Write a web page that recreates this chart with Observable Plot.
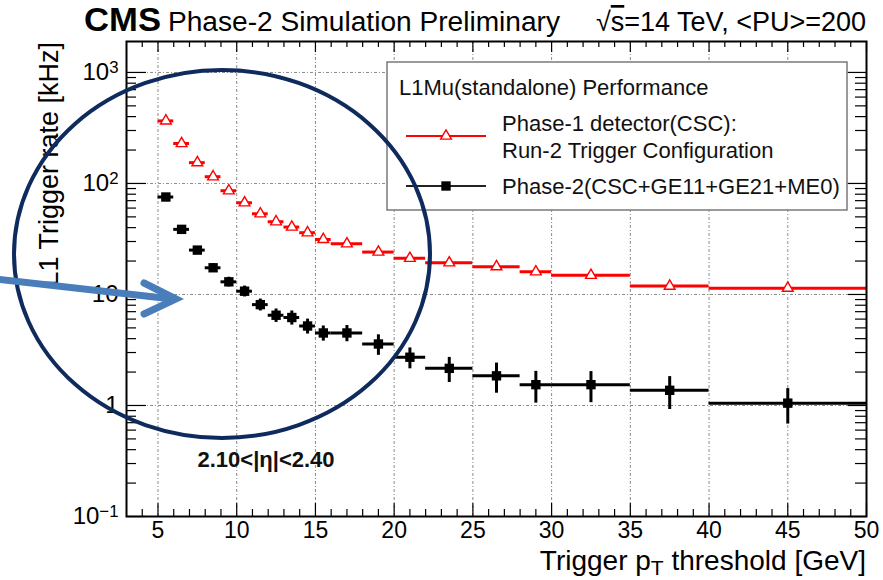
<!DOCTYPE html>
<html>
<head>
<meta charset="utf-8">
<script src="https://cdn.jsdelivr.net/npm/d3@7"></script>
<script src="https://cdn.jsdelivr.net/npm/@observablehq/plot@0.6"></script>
<style>
  body { margin: 0; background: #fff; }
  svg { font-family: "Liberation Sans", Arial, Helvetica, sans-serif; }
</style>
</head>
<body>
<div id="chart"></div>
<script>
// ---- data ----
const binLow  = [5, 6, 7, 8, 9, 10, 11, 12, 13, 14, 15, 16, 18, 20, 22, 25, 28, 30, 35, 40];
const binHigh = [6, 7, 8, 9, 10, 11, 12, 13, 14, 15, 16, 18, 20, 22, 25, 28, 30, 35, 40, 50];
const ptCenter = [5.5, 6.5, 7.5, 8.5, 9.5, 10.5, 11.5, 12.5, 13.5, 14.5, 15.5, 17, 19, 21, 23.5, 26.5, 29, 32.5, 37.5, 45];
const phase1Rate = [366, 229, 154, 115, 86, 67, 53.3, 45.2, 40.5, 36, 31.3, 28.6, 24.1, 21.2, 19.3, 17.8, 16.0, 14.9, 11.9, 11.4];
const phase1Err  = [6, 4.5, 3.5, 3, 2.6, 2.2, 2, 1.8, 1.7, 1.6, 1.5, 1.4, 1.3, 1.2, 1.1, 1.05, 1.0, 0.95, 0.85, 0.8];
const phase2Rate = [75.5, 38.6, 25.1, 17.4, 13.0, 10.7, 8.1, 6.5, 6.2, 5.2, 4.5, 4.5, 3.58, 2.72, 2.16, 1.85, 1.54, 1.54, 1.37, 1.05];
const phase2Err  = [3.0, 2.2, 1.8, 1.5, 1.3, 1.2, 1.0, 0.9, 0.9, 0.8, 0.7, 0.75, 0.75, 0.58, 0.55, 0.56, 0.49, 0.48, 0.45, 0.37];

const xMajor = [5, 10, 15, 20, 25, 30, 35, 40, 45, 50];
const xTickLabels = ["5", "10", "15", "20", "25", "30", "35", "40", "45", "50"];
const yMajor = [0.1, 1, 10, 100, 1000];
const yTickLabels = ["10^\u22121", "1", "10", "10^2", "10^3"];

const seriesNames = ["Phase-1 detector(CSC):", "Run-2 Trigger Configuration", "Phase-2(CSC+GE11+GE21+ME0)"];
const legendTitle = "L1Mu(standalone) Performance";
const etaLabel = "2.10<|\u03b7|<2.40";

// ---- layout ----
const W = 883, H = 580, mL = 126, mR = 17, mT = 41, mB = 64;
const fw = W - mL - mR, fh = H - mT - mB;
const yMax = 1900;

const data = ptCenter.map((x, i) => ({
  x, lo: binLow[i], hi: binHigh[i],
  r1: phase1Rate[i], e1: phase1Err[i],
  r2: phase2Rate[i], e2: phase2Err[i]
}));

const xMinor = d3.range(4, 50).filter(v => v % 5 !== 0);
const yMinor = [];
for (const k of [-1, 0, 1, 2, 3]) for (let m = 2; m <= 9; m++) {
  const v = m * Math.pow(10, k);
  if (v < yMax) yMinor.push(+v.toPrecision(3));
}
const gridX = xMajor.filter(v => v < 50);
const gridY = yMajor.filter(v => v > 0.1);
const grid = { stroke: "#8a8a8a", strokeWidth: 1, strokeDasharray: "3,2,1,2" };

const RED = "#ff0000";

const svg = Plot.plot({
  width: W, height: H,
  marginLeft: mL, marginRight: mR, marginTop: mT, marginBottom: mB,
  style: { background: "white", fontFamily: "'Liberation Sans', Arial, sans-serif" },
  x: { type: "linear", domain: [3, 50] },
  y: { type: "log", domain: [0.1, yMax] },
  marks: [
    Plot.ruleX(gridX, grid),
    Plot.ruleY(gridY, grid),
    // inward ticks on all four sides
    Plot.tickX(xMinor, { insetTop: fh - 7, stroke: "black", strokeWidth: 1.2 }),
    Plot.tickX(xMajor, { insetTop: fh - 13, stroke: "black", strokeWidth: 1.2 }),
    Plot.tickX(xMinor, { insetBottom: fh - 6, stroke: "black", strokeWidth: 1.2 }),
    Plot.tickX(xMajor, { insetBottom: fh - 11, stroke: "black", strokeWidth: 1.2 }),
    Plot.tickY(yMinor, { insetRight: fw - 10, stroke: "black", strokeWidth: 1.2 }),
    Plot.tickY(yMajor, { insetRight: fw - 20, stroke: "black", strokeWidth: 1.2 }),
    Plot.tickY(yMinor, { insetLeft: fw - 11, stroke: "black", strokeWidth: 1.2 }),
    Plot.tickY(yMajor, { insetLeft: fw - 18, stroke: "black", strokeWidth: 1.2 }),
    // Phase-1 (red, open triangles)
    Plot.ruleY(data, { y: "r1", x1: "lo", x2: "hi", stroke: RED, strokeWidth: 3 }),
    Plot.ruleX(data, { x: "x", y1: d => d.r1 - d.e1, y2: d => d.r1 + d.e1, stroke: RED, strokeWidth: 2 }),
    Plot.dot(data, { x: "x", y: "r1", symbol: "triangle", r: 4, fill: "white", stroke: RED, strokeWidth: 1.4 }),
    // Phase-2 (black squares)
    Plot.ruleY(data, { y: "r2", x1: "lo", x2: "hi", stroke: "black", strokeWidth: 3 }),
    Plot.ruleX(data, { x: "x", y1: d => d.r2 - d.e2, y2: d => d.r2 + d.e2, stroke: "black", strokeWidth: 3 }),
    Plot.dot(data, { x: "x", y: "r2", symbol: "square", r: 5.3, fill: "black", stroke: "none" }),
    // eta-range label
    Plot.text([etaLabel], { frameAnchor: "bottom-left", dx: 71, dy: -50, textAnchor: "start",
      fontSize: 22, fontWeight: "bold", fill: "#111" }),
    Plot.frame({ stroke: "black", strokeWidth: 2 }),
    Plot.axisX(xMajor, { anchor: "bottom", tickSize: 0, tickPadding: 5, fontSize: 23, label: null,
      tickFormat: d => xTickLabels[xMajor.indexOf(d)] }),
    Plot.axisY(yMajor, { anchor: "left", tickSize: 0, tickPadding: 8, fontSize: 24, label: null,
      tickFormat: d => yTickLabels[yMajor.indexOf(d)] })
  ]
});

document.getElementById("chart").appendChild(svg);
const s = d3.select(svg);

// superscripts on y tick labels
s.selectAll('g[aria-label="y-axis tick label"] text').each(function () {
  const t = this.textContent;
  const [base, exp] = t.split("^");
  const sel = d3.select(this);
  sel.text(base);
  if (exp) sel.append("tspan").attr("dy", "-0.45em").attr("font-size", "70%").text(exp);
});

const font = "'Liberation Sans', Arial, sans-serif";

// header
const hdr = s.append("g").attr("font-family", font).attr("fill", "black").attr("text-anchor", "start");
hdr.append("text").attr("x", 84).attr("y", 31).attr("font-size", 34).attr("font-weight", "bold")
  .attr("text-anchor", "start")
  .attr("textLength", 77).attr("lengthAdjust", "spacingAndGlyphs").text("CMS");
hdr.append("text").attr("x", 168).attr("y", 31).attr("font-size", 27).attr("text-anchor", "start")
  .attr("textLength", 392).attr("lengthAdjust", "spacingAndGlyphs").text("Phase-2 Simulation Preliminary");
const en = hdr.append("text").attr("x", 866).attr("y", 31).attr("font-size", 27).attr("text-anchor", "end");
en.append("tspan").text("\u221a");
en.append("tspan").attr("text-decoration", "overline").text("s");
en.append("tspan").text("=14 TeV, <PU>=200");

// axis titles
const xt = s.append("text").attr("x", 866).attr("y", 570).attr("font-size", 28).attr("font-family", font)
  .attr("text-anchor", "end").attr("fill", "black");
xt.append("tspan").text("Trigger p");
xt.append("tspan").attr("font-size", "75%").attr("dy", 5).text("T");
xt.append("tspan").attr("dy", -5).text(" threshold [GeV]");

s.append("text").attr("transform", "translate(58,42) rotate(-90)").attr("font-size", 27)
  .attr("font-family", font).attr("text-anchor", "end").attr("fill", "black")
  .text("L1 Trigger rate [kHz]");

// legend
const lg = s.append("g").attr("font-family", font).attr("font-size", 22).attr("fill", "#111")
  .attr("text-anchor", "start");
lg.append("rect").attr("x", 387).attr("y", 62).attr("width", 460).attr("height", 148)
  .attr("fill", "white").attr("stroke", "#7a7a7a").attr("stroke-width", 1.5);
lg.append("text").attr("x", 399).attr("y", 95).attr("text-anchor", "start").text(legendTitle);
lg.append("text").attr("x", 502).attr("y", 131).attr("text-anchor", "start").text(seriesNames[0]);
lg.append("text").attr("x", 502).attr("y", 158).attr("text-anchor", "start").text(seriesNames[1]);
lg.append("text").attr("x", 502).attr("y", 194).attr("text-anchor", "start").text(seriesNames[2]);
lg.append("line").attr("x1", 406).attr("x2", 486).attr("y1", 136).attr("y2", 136)
  .attr("stroke", RED).attr("stroke-width", 2);
lg.append("path").attr("d", d3.symbol(d3.symbolTriangle, Math.PI * 16)())
  .attr("transform", "translate(446,136)").attr("fill", "white").attr("stroke", RED).attr("stroke-width", 1.4);
lg.append("line").attr("x1", 406).attr("x2", 486).attr("y1", 186).attr("y2", 186)
  .attr("stroke", "#222").attr("stroke-width", 2);
lg.append("path").attr("d", d3.symbol(d3.symbolSquare, Math.PI * 28)())
  .attr("transform", "translate(446,186)").attr("fill", "black");

// presentation overlay: circle and arrow
const ov = s.append("g").attr("fill", "none");
ov.append("ellipse").attr("cx", 222).attr("cy", 254).attr("rx", 208).attr("ry", 184)
  .attr("stroke", "#0f2a5c").attr("stroke-width", 4);
ov.append("path").attr("d", "M-5,279 Q90,290 172,299")
  .attr("stroke", "#4a7ebb").attr("stroke-width", 7);
ov.append("path").attr("d", "M144,283 L176,299 L144,314")
  .attr("stroke", "#4a7ebb").attr("stroke-width", 7).attr("stroke-linecap", "round").attr("stroke-linejoin", "miter");
</script>
</body>
</html>
